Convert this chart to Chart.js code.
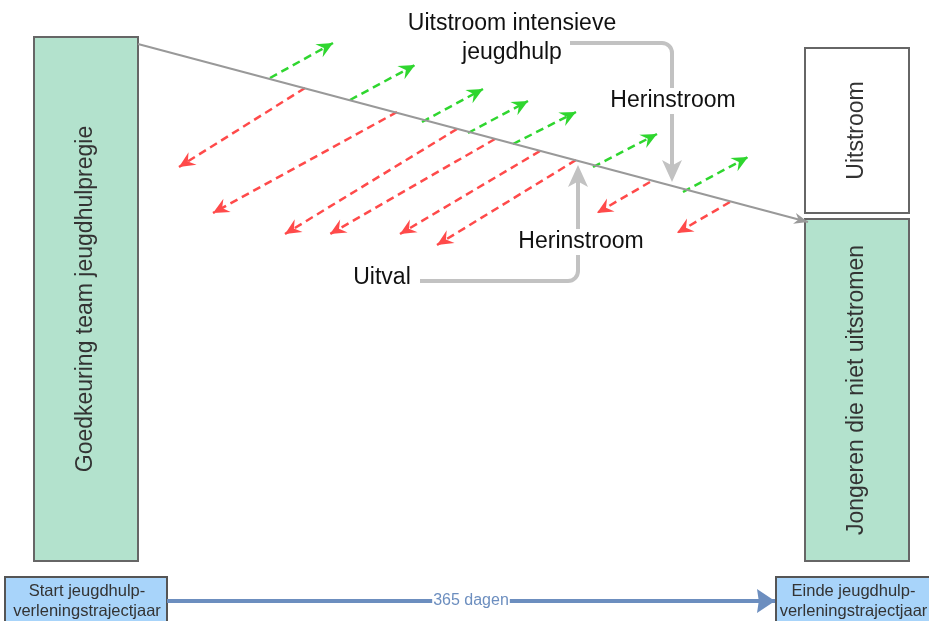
<!DOCTYPE html>
<html>
<head>
<meta charset="utf-8">
<script src="https://cdn.jsdelivr.net/npm/chart.js@4.4.1/dist/chart.umd.min.js"></script>
<style>
  html, body { margin: 0; padding: 0; background: #fff; overflow: hidden; }
  canvas { display: block; }
</style>
</head>
<body>
<canvas id="flow" width="929" height="621"></canvas>
<script>
// flow diagram data, in the chart's own x/y units
const mainFlow = [[138, 44], [808, 222]];
const uitstroomArrows = [
  [270, 78, 333, 43], [350, 100, 415, 65], [422, 122, 483, 89], [468, 133, 528, 101],
  [513, 144, 576, 112], [593, 167, 657, 134], [683, 192, 748, 157]
];
const uitvalArrows = [
  [305, 88, 179, 167], [397, 112, 213, 213], [457, 129, 285, 234], [495, 139, 330, 234],
  [540, 151, 400, 234], [576, 160, 437, 245], [650, 182, 597, 213], [730, 202, 677, 233]
];
const timeline = [[167, 601], [775, 601]];
const timelineLabel = '365 dagen';

const boxRects = [[34, 37, 138, 561], [805, 48, 909, 213], [805, 219, 909, 561], [5, 577, 167, 640], [776, 577, 945, 640]];
const boxLabels = [['Goedkeuring team jeugdhulpregie'], ['Uitstroom'], ['Jongeren die niet uitstromen'],
  ['Start jeugdhulp-', 'verleningstrajectjaar'], ['Einde jeugdhulp-', 'verleningstrajectjaar']];

const connectors = [
  [[570, 43], [672, 43], [672, 182]],
  [[420, 281], [578, 281], [578, 165]]
];
const labels = [
  ['Uitstroom intensieve', 512, 24], ['jeugdhulp', 512, 53],
  ['Herinstroom', 673, 101], ['Herinstroom', 581, 242], ['Uitval', 382, 278]
];

const FONT = '"Liberation Sans", Arial, sans-serif';
const RED = '#ff4a4a', GREEN = '#2fd62f', GREY = '#c2c2c2';

function seg(a) { return [{ x: a[0], y: a[1] }, { x: a[2], y: a[3] }]; }

function head(ctx, x0, y0, x1, y1, len, wid, notch, color) {
  const a = Math.atan2(y1 - y0, x1 - x0);
  ctx.save();
  ctx.translate(x1, y1);
  ctx.rotate(a);
  ctx.beginPath();
  ctx.moveTo(0, 0);
  ctx.lineTo(-len, -wid / 2);
  ctx.lineTo(-len * (1 - notch), 0);
  ctx.lineTo(-len, wid / 2);
  ctx.closePath();
  ctx.fillStyle = color;
  ctx.fill();
  ctx.restore();
}

const datasets = [
  { data: mainFlow.map(p => ({ x: p[0], y: p[1] })), borderColor: '#999', borderWidth: 2, arrow: [14, 11, 0.3] },
  ...uitstroomArrows.map(a => ({ data: seg(a), borderColor: GREEN, borderWidth: 2.5, borderDash: [8, 5], arrow: [16, 15, 0.35] })),
  ...uitvalArrows.map(a => ({ data: seg(a), borderColor: RED, borderWidth: 2.5, borderDash: [8, 5], arrow: [16, 15, 0.35] })),
  { data: timeline.map(p => ({ x: p[0], y: p[1] })), borderColor: '#6c8ebf', borderWidth: 4, arrow: [18, 24, 0.1] }
];

const diagram = {
  id: 'diagram',
  beforeDatasetsDraw(chart) {
    const { ctx, scales: { x, y } } = chart;
    boxRects.forEach((b, i) => {
      const x0 = x.getPixelForValue(b[0]), y0 = y.getPixelForValue(b[1]);
      const x1 = x.getPixelForValue(b[2]), y1 = y.getPixelForValue(b[3]);
      ctx.save();
      ctx.fillStyle = i === 1 ? '#ffffff' : (i > 2 ? '#a8d4fa' : '#b3e2cd');
      ctx.strokeStyle = i > 2 ? '#555' : '#666';
      ctx.lineWidth = 2;
      ctx.fillRect(x0, y0, x1 - x0, y1 - y0);
      ctx.strokeRect(x0, y0, x1 - x0, y1 - y0);
      ctx.fillStyle = '#333';
      ctx.textAlign = 'center';
      ctx.textBaseline = 'middle';
      if (i <= 2) {
        ctx.translate((x0 + x1) / 2, (y0 + y1) / 2);
        ctx.rotate(-Math.PI / 2);
        ctx.font = '23px ' + FONT;
        ctx.fillText(boxLabels[i][0], 0, 0);
      } else {
        ctx.font = '16.5px ' + FONT;
        boxLabels[i].forEach((t, k) => ctx.fillText(t, (x0 + Math.min(x1, 929)) / 2 + 1, y0 + 14 + k * 20));
      }
      ctx.restore();
    });
  },
  afterDatasetsDraw(chart) {
    const { ctx, scales: { x, y } } = chart;
    // arrowheads on every dataset
    chart.data.datasets.forEach((ds, i) => {
      const pts = chart.getDatasetMeta(i).data;
      const p0 = pts[pts.length - 2], p1 = pts[pts.length - 1];
      head(ctx, p0.x, p0.y, p1.x, p1.y, ds.arrow[0], ds.arrow[1], ds.arrow[2], ds.borderColor);
    });
    // grey connectors with rounded corners
    connectors.forEach(c => {
      const p = c.map(q => [x.getPixelForValue(q[0]), y.getPixelForValue(q[1])]);
      const tip = p[2];
      const dir = Math.sign(tip[1] - p[1][1]);
      ctx.save();
      ctx.strokeStyle = GREY;
      ctx.lineWidth = 4;
      ctx.lineCap = 'butt';
      ctx.beginPath();
      ctx.moveTo(p[0][0], p[0][1]);
      ctx.arcTo(p[1][0], p[1][1], tip[0], tip[1], 10);
      ctx.lineTo(tip[0], tip[1] - dir * 12);
      ctx.stroke();
      ctx.restore();
      head(ctx, p[1][0], p[1][1], tip[0], tip[1], 22, 20, 0.25, GREY);
    });
    // text labels
    ctx.save();
    ctx.font = '23px ' + FONT;
    ctx.textAlign = 'center';
    ctx.textBaseline = 'middle';
    labels.forEach(([t, lx, ly]) => {
      const px = x.getPixelForValue(lx), py = y.getPixelForValue(ly);
      if (t === 'Herinstroom') {
        const w = ctx.measureText(t).width;
        ctx.fillStyle = '#fff';
        ctx.fillRect(px - w / 2 - 2, py - 13, w + 4, 26);
      }
      ctx.fillStyle = '#111';
      ctx.fillText(t, px, py);
    });
    // timeline label
    const tx = (x.getPixelForValue(timeline[0][0]) + x.getPixelForValue(timeline[1][0])) / 2;
    const ty = y.getPixelForValue(timeline[0][1]);
    ctx.font = '16px ' + FONT;
    const w = ctx.measureText(timelineLabel).width;
    ctx.fillStyle = '#fff';
    ctx.fillRect(tx - w / 2 - 1, ty - 9, w + 2, 18);
    ctx.fillStyle = '#6c8ebf';
    ctx.fillText(timelineLabel, tx, ty);
    ctx.restore();
  }
};

new Chart(document.getElementById('flow'), {
  type: 'scatter',
  data: { datasets },
  options: {
    responsive: false,
    devicePixelRatio: 1,
    animation: false,
    showLine: true,
    layout: { padding: 0 },
    elements: { point: { radius: 0, hoverRadius: 0 }, line: { tension: 0 } },
    scales: {
      x: { type: 'linear', min: 0, max: 929, display: false },
      y: { type: 'linear', min: 0, max: 621, reverse: true, display: false }
    },
    plugins: { legend: { display: false }, tooltip: { enabled: false } }
  },
  plugins: [diagram]
});
</script>
</body>
</html>
